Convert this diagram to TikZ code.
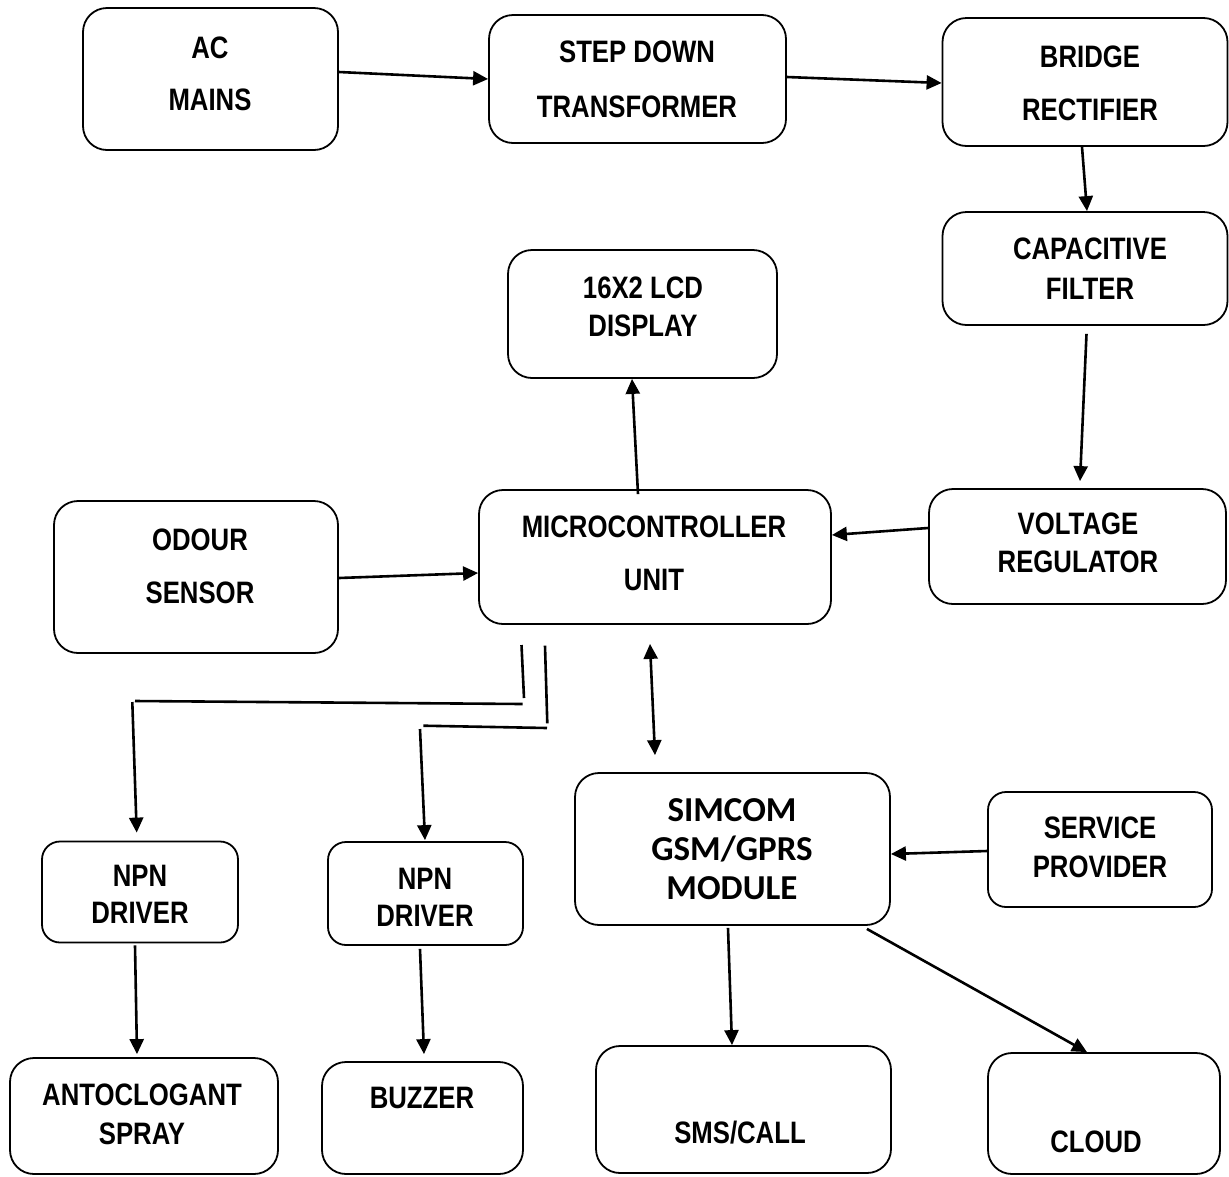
\documentclass[tikz,border=0pt]{standalone}
\usepackage{fontspec}
\newfontfamily\narfont{Liberation Sans}[FakeStretch=0.83]
\newfontfamily\calfont{Carlito}
\usetikzlibrary{arrows.meta}
\begin{document}
\begin{tikzpicture}[x=1pt,y=-1pt,
  blk/.style={draw, line width=1.8pt, rounded corners=24pt, inner sep=0pt},
  sblk/.style={blk, rounded corners=18pt},
  txt/.style={align=center, inner sep=0pt, font=\narfont\bfseries\fontsize{31}{#1}\selectfont},
  txt/.default=40,
  ctxt/.style={align=center, inner sep=0pt, font=\calfont\bfseries\fontsize{35}{39}\selectfont},
  con/.style={line width=2.6pt},
  arr/.style={con, -{Triangle[length=15pt,width=14pt]}},
  darr/.style={con, {Triangle[length=15pt,width=14pt]}-{Triangle[length=15pt,width=14pt]}}]
\useasboundingbox (0,0) rectangle (1229,1176);
\clip (0,0) rectangle (1229,1176);
\fill[white] (0,0) rectangle (1229,1176);

% boxes
\node[blk, minimum width=255pt, minimum height=142pt] (ac) at (210.5,79) {};
\node[blk, minimum width=297pt, minimum height=128pt] (step) at (637.5,79) {};
\node[blk, minimum width=285pt, minimum height=128pt] (bridge) at (1085,82) {};
\node[blk, minimum width=285pt, minimum height=113pt] (cap) at (1085,268.5) {};
\node[blk, minimum width=269pt, minimum height=128pt] (lcd) at (642.5,314) {};
\node[blk, minimum width=297pt, minimum height=115pt] (volt) at (1077.5,546.5) {};
\node[blk, minimum width=352pt, minimum height=134pt] (mcu) at (655,557) {};
\node[blk, minimum width=284pt, minimum height=152pt] (odour) at (196,577) {};
\node[sblk, minimum width=196pt, minimum height=101pt] (npna) at (140,892) {};
\node[sblk, minimum width=195pt, minimum height=103pt] (npnb) at (425.5,893.5) {};
\node[blk, minimum width=315pt, minimum height=152pt] (sim) at (732.5,849) {};
\node[sblk, minimum width=224pt, minimum height=115pt] (serv) at (1100,849.5) {};
\node[blk, minimum width=268pt, minimum height=116pt] (spray) at (144,1116) {};
\node[blk, minimum width=201pt, minimum height=112pt] (buzz) at (422.5,1118) {};
\node[blk, minimum width=295pt, minimum height=127pt] (sms) at (743.5,1109.5) {};
\node[blk, minimum width=232pt, minimum height=121pt] (cloud) at (1104,1113.5) {};

% texts
\node[txt=52] (tac) at (210,74) {AC\\MAINS};
\node[txt=55] (tstep) at (637,79.5) {STEP DOWN\\TRANSFORMER};
\node[txt=53] (tbridge) at (1090,83.5) {BRIDGE\\RECTIFIER};
\node[txt=40] (tcap) at (1090,269) {CAPACITIVE\\FILTER};
\node[txt=38] (tlcd) at (643,307) {16X2 LCD\\DISPLAY};
\node[txt=38] (tvolt) at (1078,543) {VOLTAGE\\REGULATOR};
\node[txt=53] (tmcu) at (654,553.5) {MICROCONTROLLER\\UNIT};
\node[txt=53] (todour) at (200,566.5) {ODOUR\\SENSOR};
\node[txt=37] (tnpna) at (140,894.5) {NPN\\DRIVER};
\node[txt=37] (tnpnb) at (425,897.5) {NPN\\DRIVER};
\node[ctxt] (tsim) at (732,849) {SIMCOM\\GSM/GPRS\\MODULE};
\node[txt=39] (tserv) at (1100,847.5) {SERVICE\\PROVIDER};
\node[txt=39] (tspray) at (142,1114) {ANTOCLOGANT\\SPRAY};
\node[txt] (tbuzz) at (422,1098) {BUZZER};
\node[txt] (tsms) at (740,1133) {SMS/CALL};
\node[txt] (tcloud) at (1096,1142) {CLOUD};

% connectors
\draw[arr] ([yshift=7pt]ac.east) -- (step.west);
\draw[arr] ([yshift=2pt]step.east) -- ([yshift=-1pt]bridge.west);
\draw[arr] ([xshift=-3pt]bridge.south) -- ([xshift=2pt]cap.north);
\draw[arr] ([xshift=1.5pt,yshift=-8pt]cap.south) -- ([xshift=2.5pt,yshift=7pt]volt.north);
\draw[arr] ([yshift=18.5pt]volt.west) -- ([yshift=22pt]mcu.east);
\draw[arr] ([yshift=-1pt]odour.east) -- ([yshift=-16pt]mcu.west);
\draw[arr] ([xshift=-17pt,yshift=-5pt]mcu.north) -- ([xshift=-10.5pt]lcd.south);
\draw[darr] ([xshift=-5pt,yshift=-19pt]mcu.south) -- ([xshift=-77.5pt,yshift=17pt]sim.north);
\draw[arr] ([yshift=-1.5pt]serv.west) -- ([yshift=-5pt]sim.east);
\draw[arr] ([xshift=-4.5pt,yshift=-2pt]sim.south) -- ([xshift=-11.5pt]sms.north);
\draw[arr] ([xshift=-24pt,yshift=-3pt]sim.south east) -- ([xshift=-17pt]cloud.north);
\draw[arr] ([xshift=-5pt,yshift=-2pt]npna.south) -- ([xshift=-7pt,yshift=3pt]spray.north);
\draw[arr] ([xshift=-5.5pt,yshift=-3pt]npnb.south) -- ([xshift=1.5pt,yshift=7pt]buzz.north);

% MCU to NPN drivers (broken polylines)
\coordinate (a1) at (521.5,645);
\coordinate (a2) at (524,698);
\coordinate (a3) at (522.7,704);
\coordinate (a4) at (135,701);
\coordinate (a5) at (132.3,702);
\draw[con] (a1) -- (a2);
\draw[con] (a3) -- (a4);
\draw[arr] (a5) -- ([xshift=-3.3pt,yshift=8pt]npna.north);
\coordinate (b1) at (545,645.7);
\coordinate (b2) at (547.3,723.3);
\coordinate (b3) at (547,728);
\coordinate (b4) at (423.3,725.7);
\coordinate (b5) at (420,729);
\draw[con] (b1) -- (b2);
\draw[con] (b3) -- (b4);
\draw[arr] (b5) -- ([xshift=-0.5pt,yshift=1pt]npnb.north);
\end{tikzpicture}
\end{document}
